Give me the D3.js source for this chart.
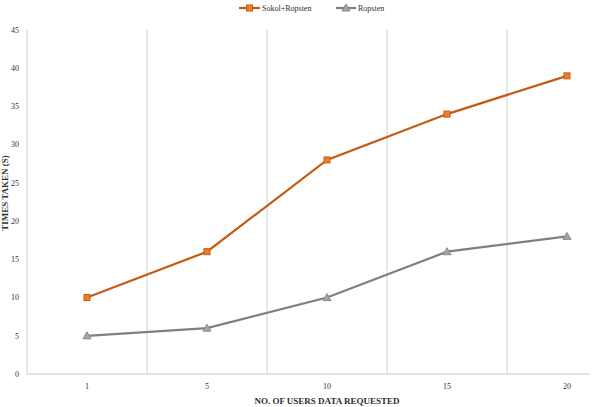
<!DOCTYPE html>
<html>
<head>
<meta charset="utf-8">
<script src="https://cdn.jsdelivr.net/npm/d3@7"></script>
<style>
  body { margin: 0; background: #fff; }
  svg text { font-family: "Liberation Serif", "DejaVu Serif", serif; fill: #303030; }
</style>
</head>
<body>
<div id="chart"></div>
<script>
// chart values
const categories = ["1", "5", "10", "15", "20"];
const sokolRopsten = [10, 16, 28, 34, 39];
const ropsten = [5, 6, 10, 16, 18];
const yTicks = [0, 5, 10, 15, 20, 25, 30, 35, 40, 45];
const seriesNames = ["Sokol+Ropsten", "Ropsten"];

const width = 600, height = 407;

const svg = d3.select('#chart')
              .append('svg')
              .attr('width', width)
              .attr('height', height);

const x = d3.scaleBand()
            .domain(categories)
            .range([27, 627]);
const y = d3.scaleLinear()
            .domain([0, 45])
            .range([374, 30]);

// vertical gridlines between categories
svg.append("g")
   .selectAll("line")
   .data(categories.slice(1))
   .enter()
   .append("line")
   .attr("x1", d => x(d))
   .attr("x2", d => x(d))
   .attr("y1", y(45))
   .attr("y2", y(0))
   .attr("stroke", "#d9d9d9")
   .attr("stroke-width", 1.2);

// axis lines
svg.append("line")
   .attr("x1", 27).attr("x2", 27)
   .attr("y1", y(45)).attr("y2", y(0))
   .attr("stroke", "#d9d9d9").attr("stroke-width", 1.2);
svg.append("line")
   .attr("x1", 27).attr("x2", 590)
   .attr("y1", y(0)).attr("y2", y(0))
   .attr("stroke", "#d9d9d9").attr("stroke-width", 1.5);

// y tick labels
svg.append("g")
   .selectAll("text")
   .data(yTicks)
   .enter()
   .append("text")
   .attr("x", 19)
   .attr("y", d => y(d))
   .attr("dy", "0.35em")
   .attr("text-anchor", "end")
   .style("font-size", "8px")
   .text(d => d);

// x tick labels
svg.append("g")
   .selectAll("text")
   .data(categories)
   .enter()
   .append("text")
   .attr("x", d => x(d) + x.bandwidth() / 2)
   .attr("y", 389)
   .attr("text-anchor", "middle")
   .style("font-size", "8px")
   .text(d => d);

// axis titles
svg.append("text")
   .attr("x", 327)
   .attr("y", 404)
   .attr("text-anchor", "middle")
   .style("font-size", "9px")
   .style("font-weight", "bold")
   .text("NO. OF USERS DATA REQUESTED");

svg.append("text")
   .attr("transform", "translate(8,193) rotate(-90)")
   .attr("text-anchor", "middle")
   .style("font-size", "9px")
   .style("font-weight", "bold")
   .text("TIMES TAKEN (S)");

const line = d3.line()
               .x((d, i) => x(categories[i]) + x.bandwidth() / 2)
               .y(d => y(d));

// Sokol+Ropsten series
svg.append("path")
   .datum(sokolRopsten)
   .attr("d", line)
   .attr("fill", "none")
   .attr("stroke", "#c55a11")
   .attr("stroke-width", 2.2);
svg.append("g")
   .selectAll("rect")
   .data(sokolRopsten)
   .enter()
   .append("rect")
   .attr("x", (d, i) => x(categories[i]) + x.bandwidth() / 2 - 3)
   .attr("y", d => y(d) - 3)
   .attr("width", 6)
   .attr("height", 6)
   .attr("fill", "#ed7d31")
   .attr("stroke", "#c55a11")
   .attr("stroke-width", 1);

// Ropsten series
svg.append("path")
   .datum(ropsten)
   .attr("d", line)
   .attr("fill", "none")
   .attr("stroke", "#7f7f7f")
   .attr("stroke-width", 2.2);
svg.append("g")
   .selectAll("path")
   .data(ropsten)
   .enter()
   .append("path")
   .attr("transform", (d, i) => "translate(" + (x(categories[i]) + x.bandwidth() / 2) + "," + y(d) + ")")
   .attr("d", "M0,-4L4,3L-4,3Z")
   .attr("fill", "#a5a5a5")
   .attr("stroke", "#8c8c8c")
   .attr("stroke-width", 1);

// legend
const legend = svg.append("g");
legend.append("line")
      .attr("x1", 239).attr("x2", 260).attr("y1", 8).attr("y2", 8)
      .attr("stroke", "#c55a11").attr("stroke-width", 2.2);
legend.append("rect")
      .attr("x", 246.5).attr("y", 5).attr("width", 6).attr("height", 6)
      .attr("fill", "#ed7d31").attr("stroke", "#c55a11");
legend.append("text")
      .attr("x", 262).attr("y", 8).attr("dy", "0.35em")
      .style("font-size", "8px")
      .text(seriesNames[0]);
legend.append("line")
      .attr("x1", 336).attr("x2", 356).attr("y1", 8).attr("y2", 8)
      .attr("stroke", "#7f7f7f").attr("stroke-width", 2.2);
legend.append("path")
      .attr("transform", "translate(346,8)")
      .attr("d", "M0,-4L4,3L-4,3Z")
      .attr("fill", "#a5a5a5").attr("stroke", "#8c8c8c");
legend.append("text")
      .attr("x", 358).attr("y", 8).attr("dy", "0.35em")
      .style("font-size", "8px")
      .text(seriesNames[1]);
</script>
</body>
</html>
